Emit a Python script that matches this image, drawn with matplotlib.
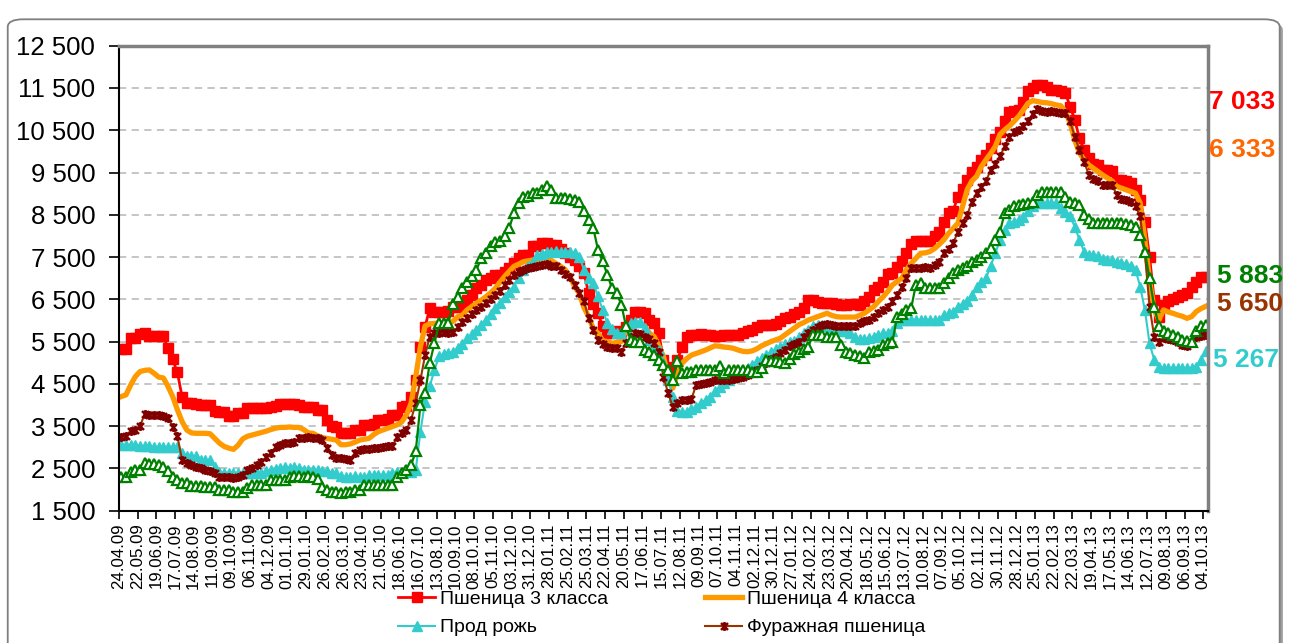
import matplotlib
matplotlib.use("Agg")
import matplotlib.pyplot as plt
from matplotlib.path import Path
from matplotlib.patches import FancyBboxPatch
import pandas as pd

plt.rcParams['font.family'] = ['Liberation Sans', 'DejaVu Sans']

# weekly dates, labels every 4 weeks
dates = pd.date_range('2009-04-24', periods=233, freq='7D')
date_labels = [d.strftime('%d.%m.%y') for d in dates]

wheat3 = [
    5320, 5330, 5580, 5590, 5690, 5700, 5640, 5640, 5630, 5630,
    5340, 5080, 4770, 4200, 4050, 4040, 4030, 4000, 4000, 3990,
    3850, 3840, 3830, 3740, 3740, 3800, 3810, 3920, 3920, 3930,
    3930, 3940, 3960, 3970, 4020, 4030, 4030, 4020, 4010, 3960,
    3960, 3950, 3880, 3870, 3650, 3500, 3480, 3340, 3330, 3330,
    3400, 3420, 3520, 3530, 3540, 3640, 3650, 3660, 3760, 3770,
    3950, 3970, 4200, 4590, 5380, 5850, 6290, 6210, 6200, 6210,
    6220, 6320, 6330, 6340, 6480, 6600, 6760, 6850, 6960, 7000,
    7070, 7080, 7150, 7240, 7350, 7470, 7550, 7560, 7760, 7770,
    7830, 7830, 7790, 7780, 7700, 7590, 7500, 7430, 7300, 7120,
    6650, 6400, 6170, 5860, 5700, 5700, 5740, 5700, 5850, 6010,
    6200, 6210, 6170, 6000, 5930, 5700, 5070, 4670, 4900, 5070,
    5380, 5600, 5660, 5660, 5670, 5660, 5650, 5640, 5640, 5660,
    5660, 5650, 5650, 5700, 5740, 5780, 5840, 5890, 5900, 5900,
    5910, 5990, 6050, 6090, 6150, 6210, 6300, 6480, 6490, 6430,
    6420, 6420, 6410, 6400, 6370, 6370, 6380, 6380, 6370, 6460,
    6560, 6720, 6800, 6920, 7100, 7120, 7270, 7400, 7590, 7800,
    7880, 7880, 7890, 7880, 8000, 8100, 8340, 8540, 8600, 8930,
    9100, 9330, 9520, 9640, 9800, 9920, 10080, 10300, 10450, 10710,
    10940, 10960, 10980, 11180, 11420, 11500, 11580, 11570, 11520, 11460,
    11450, 11440, 11380, 11060, 10750, 10310, 10040, 9840, 9700, 9680,
    9550, 9550, 9540, 9330, 9320, 9310, 9250, 9090, 8850, 8340,
    7510, 6490, 6090, 6370, 6450, 6500, 6550, 6600, 6650, 6800,
    6900, 7040, 7033,
]

wheat4 = [
    4200, 4240, 4470, 4670, 4790, 4820, 4830, 4750, 4660, 4640,
    4440, 4200, 3890, 3610, 3410, 3340, 3330, 3330, 3330, 3320,
    3210, 3100, 3020, 2980, 2950, 3050, 3200, 3260, 3290, 3320,
    3350, 3380, 3420, 3450, 3470, 3470, 3480, 3470, 3470, 3420,
    3340, 3330, 3270, 3230, 3210, 3190, 3170, 3060, 3060, 3080,
    3120, 3170, 3190, 3210, 3300, 3370, 3410, 3450, 3490, 3530,
    3600, 3760, 4040, 4670, 5380, 5870, 5920, 5930, 5940, 5930,
    5940, 5980, 6090, 6130, 6250, 6330, 6410, 6480, 6560, 6650,
    6760, 6900, 7040, 7160, 7280, 7330, 7390, 7410, 7430, 7440,
    7450, 7440, 7420, 7350, 7280, 7200, 7040, 6800, 6640, 6300,
    6090, 5800, 5700, 5520, 5500, 5460, 5480, 5500, 5780, 5880,
    5930, 5900, 5860, 5700, 5620, 5400, 5150, 4670, 4400, 4750,
    4990, 5100, 5180, 5220, 5260, 5300, 5350, 5400, 5390, 5370,
    5360, 5340, 5300, 5270, 5260, 5280, 5330, 5400, 5450, 5500,
    5540, 5580, 5660, 5740, 5820, 5900, 5950, 6010, 6050, 6090,
    6130, 6170, 6120, 6090, 6080, 6080, 6080, 6080, 6120, 6170,
    6250, 6330, 6450, 6560, 6690, 6840, 6920, 7000, 7200, 7350,
    7470, 7590, 7600, 7630, 7700, 7800, 7910, 8060, 8180, 8300,
    8700, 9100, 9300, 9410, 9640, 9800, 9950, 10120, 10400, 10510,
    10600, 10710, 10830, 10980, 11140, 11200, 11180, 11160, 11150, 11130,
    11100, 11080, 10940, 10670, 10270, 9960, 9800, 9680, 9600, 9520,
    9440, 9370, 9300, 9170, 9130, 9090, 9050, 9010, 8780, 7910,
    6960, 6250, 6010, 6250, 6200, 6170, 6130, 6100, 6050, 6090,
    6210, 6280, 6333,
]

rye = [
    3050, 3050, 3050, 3050, 3040, 3020, 3020, 3010, 3010, 3010,
    3000, 3000, 3000, 2860, 2800, 2790, 2790, 2710, 2700, 2690,
    2540, 2420, 2390, 2380, 2380, 2380, 2390, 2380, 2380, 2390,
    2400, 2430, 2460, 2480, 2520, 2530, 2520, 2530, 2520, 2470,
    2460, 2460, 2460, 2450, 2450, 2390, 2380, 2310, 2300, 2300,
    2310, 2300, 2300, 2340, 2340, 2350, 2340, 2340, 2380, 2420,
    2420, 2430, 2420, 2460, 3370, 4080, 4440, 4830, 5150, 5210,
    5220, 5260, 5340, 5450, 5580, 5680, 5780, 5900, 6010, 6150,
    6290, 6420, 6560, 6680, 6800, 7000, 7200, 7300, 7390, 7550,
    7580, 7630, 7630, 7640, 7630, 7630, 7620, 7600, 7510, 7200,
    7000, 6880, 6570, 6250, 5930, 5800, 5700, 5700, 5850, 5950,
    5970, 5970, 5820, 5540, 5400, 5300, 4990, 4590, 4200, 3850,
    3840, 3840, 3900, 3960, 4050, 4120, 4200, 4320, 4420, 4510,
    4600, 4670, 4730, 4790, 4870, 4950, 5030, 5110, 5190, 5260,
    5320, 5380, 5440, 5480, 5520, 5600, 5700, 5780, 5860, 5900,
    5900, 5880, 5800, 5780, 5760, 5750, 5700, 5600, 5560, 5560,
    5580, 5600, 5650, 5700, 5700, 5760, 5930, 6000, 6010, 6020,
    6010, 6010, 6020, 6010, 6010, 6020, 6130, 6170, 6210, 6330,
    6400, 6450, 6600, 6800, 6900, 7000, 7280, 7590, 7900, 8140,
    8300, 8340, 8380, 8450, 8580, 8700, 8780, 8780, 8780, 8770,
    8770, 8660, 8560, 8460, 8220, 7910, 7630, 7560, 7540, 7530,
    7450, 7430, 7420, 7390, 7370, 7340, 7300, 7200, 6800, 6250,
    5460, 5070, 4900, 4870, 4870, 4870, 4870, 4870, 4870, 4870,
    4900, 5070, 5267,
]

feed = [
    3250, 3270, 3390, 3420, 3500, 3780, 3770, 3760, 3760, 3750,
    3690, 3490, 3270, 2700, 2620, 2580, 2540, 2500, 2470, 2440,
    2380, 2300, 2290, 2290, 2280, 2290, 2340, 2460, 2520, 2580,
    2660, 2760, 2860, 3010, 3050, 3090, 3110, 3130, 3210, 3230,
    3250, 3220, 3210, 3170, 2980, 2820, 2750, 2740, 2720, 2710,
    2860, 2930, 2950, 2970, 2980, 2980, 3010, 3020, 3020, 3250,
    3330, 3410, 3650, 4040, 4590, 5180, 5620, 5710, 5710, 5720,
    5710, 5720, 5840, 5970, 6050, 6150, 6250, 6330, 6410, 6500,
    6600, 6700, 6840, 6960, 7080, 7150, 7200, 7250, 7270, 7290,
    7320, 7340, 7300, 7280, 7200, 7100, 7040, 6840, 6650, 6450,
    6050, 5780, 5540, 5450, 5380, 5350, 5340, 5260, 5460, 5600,
    5700, 5680, 5620, 5550, 5460, 5260, 4670, 4280, 3960, 4050,
    4120, 4130, 4140, 4480, 4500, 4510, 4550, 4580, 4590, 4590,
    4600, 4610, 4630, 4670, 4710, 4770, 4830, 4920, 5000, 5080,
    5140, 5220, 5300, 5400, 5450, 5500, 5600, 5700, 5780, 5850,
    5890, 5910, 5900, 5880, 5870, 5870, 5870, 5880, 5940, 5980,
    6010, 6090, 6170, 6250, 6330, 6450, 6600, 6800, 7000, 7240,
    7250, 7250, 7260, 7250, 7320, 7390, 7590, 7700, 7830, 8100,
    8300, 8500, 8810, 9010, 9150, 9290, 9560, 9700, 9880, 10120,
    10350, 10450, 10510, 10600, 10710, 10890, 11000, 10950, 10940, 10950,
    10940, 10920, 10900, 10710, 10350, 10040, 9760, 9450, 9350, 9290,
    9210, 9210, 9200, 8970, 8870, 8850, 8810, 8710, 8460, 7590,
    6330, 5620, 5500, 5580, 5560, 5540, 5480, 5420, 5400, 5500,
    5600, 5630, 5650,
]

# green series, not in the legend
green = [
    2290, 2290, 2420, 2460, 2460, 2620, 2600, 2600, 2580, 2540,
    2450, 2300, 2230, 2150, 2150, 2090, 2080, 2080, 2070, 2070,
    2060, 1990, 1990, 1990, 1950, 1950, 1950, 2030, 2100, 2100,
    2110, 2110, 2220, 2230, 2230, 2230, 2300, 2310, 2310, 2300,
    2310, 2300, 2240, 2070, 1980, 1930, 1930, 1920, 1930, 1930,
    1990, 1990, 2100, 2110, 2110, 2100, 2110, 2110, 2100, 2300,
    2380, 2460, 2580, 2900, 4000, 4280, 4990, 5460, 5930, 5930,
    5940, 6400, 6560, 6760, 6920, 7050, 7200, 7470, 7600, 7750,
    7860, 7870, 7990, 8180, 8540, 8780, 8930, 8940, 9010, 9010,
    9080, 9170, 9090, 8890, 8890, 8890, 8880, 8860, 8810, 8580,
    8380, 8180, 7670, 7400, 7080, 6760, 6640, 6370, 5860, 5540,
    5500, 5500, 5300, 5250, 5180, 5070, 4950, 4830, 4590, 5030,
    4750, 4790, 4790, 4830, 4830, 4830, 4830, 4830, 4920, 4750,
    4830, 4830, 4830, 4830, 4830, 4790, 4790, 4870, 5070, 5050,
    5030, 5010, 4990, 5100, 5200, 5260, 5320, 5380, 5660, 5660,
    5660, 5620, 5620, 5620, 5420, 5260, 5220, 5180, 5150, 5110,
    5260, 5270, 5300, 5420, 5460, 5500, 6090, 6150, 6250, 6290,
    6840, 6880, 6770, 6760, 6760, 6760, 6880, 7000, 7120, 7200,
    7250, 7280, 7390, 7430, 7500, 7600, 7710, 7910, 8100, 8540,
    8620, 8700, 8720, 8760, 8790, 8810, 8970, 9050, 9050, 9050,
    9050, 9050, 8930, 8810, 8780, 8740, 8500, 8400, 8300, 8300,
    8300, 8300, 8300, 8300, 8300, 8290, 8270, 8220, 8030, 7630,
    7000, 6330, 5860, 5740, 5700, 5650, 5620, 5540, 5520, 5500,
    5740, 5870, 5883,
]

yticks = list(range(1500, 12501, 1000))

# excel style star marker: x with a vertical bar
star = Path([(-1, -1), (1, 1), (-1, 1), (1, -1), (0, -1.3), (0, 1.3)],
            [Path.MOVETO, Path.LINETO] * 3)

fig = plt.figure(figsize=(12.9, 6.43), dpi=100)
# chart area frame with a small shadow
fig.patches.append(FancyBboxPatch((0.0085, -0.065), 0.986, 1.03,
                                  boxstyle='round,pad=0,rounding_size=0.012',
                                  transform=fig.transFigure, facecolor='#a0a0a0',
                                  edgecolor='none', zorder=-11))
fig.patches.append(FancyBboxPatch((0.006, -0.06), 0.986, 1.03,
                                  boxstyle='round,pad=0,rounding_size=0.012',
                                  transform=fig.transFigure, facecolor='white',
                                  edgecolor='#7f7f7f', linewidth=1.3, zorder=-10))

ax = fig.add_axes([0.0922, 0.2058, 0.8442, 0.7231])
x = list(range(len(dates)))

ax.plot(x, wheat3, color='#ff0000', lw=2, marker='s', ms=7, mec='#ff0000',
        mfc='#ff0000', label='Пшеница 3 класса')
ax.plot(x, wheat4, color='#ff9900', lw=3.8, label='Пшеница 4 класса')
ax.plot(x, rye, color='#33cccc', lw=1.5, marker='^', ms=7.5, mec='#33cccc',
        mfc='#33cccc', label='Прод рожь')
ax.plot(x, feed, color='#993300', lw=1.5, marker=star, ms=6.5, mec='#800000',
        mew=1.8, label='Фуражная пшеница')
ax.plot(x, green, color='#008000', lw=1.6, marker='^', ms=7.5, mec='#008000',
        mfc='white', mew=1.6)

ax.set_xlim(-0.5, len(dates) - 0.5)
ax.set_ylim(1500, 12500)
ax.set_yticks(yticks)
ax.set_yticklabels([f'{v:,}'.replace(',', ' ') for v in yticks], fontsize=18.5)
ax.tick_params(axis='y', length=7, width=1.2, pad=10)

tick_pos = [i - 0.5 for i in range(0, len(dates), 4)]
ax.set_xticks(tick_pos)
ax.set_xticklabels(date_labels[::4], rotation=90, fontsize=12.2)
ax.tick_params(axis='x', length=6, width=1.2, pad=3)

for v in yticks[1:-1]:
    ax.axhline(v, color='#c0c0c0', lw=1.3, ls=(0, (4, 3)), zorder=0)

ax.spines['left'].set_linewidth(1.5)
ax.spines['bottom'].set_linewidth(1.5)
ax.spines['top'].set_color('#808080')
ax.spines['top'].set_linewidth(2.5)
ax.spines['right'].set_color('#808080')
ax.spines['right'].set_linewidth(2.5)

# end values on the right side
end_labels = [
    (wheat3[-1], '#ff0000', 0.937, 0.842),
    (wheat4[-1], '#ff6600', 0.937, 0.767),
    (green[-1], '#008000', 0.9434, 0.571),
    (feed[-1], '#993300', 0.9434, 0.527),
    (rye[-1], '#33cccc', 0.9403, 0.440),
]
for val, col, tx, ty in end_labels:
    fig.text(tx, ty, f'{val:,}'.replace(',', ' '), color=col, fontsize=19,
             fontweight='bold', ha='left', va='center')

handles, labels = ax.get_legend_handles_labels()
order = [0, 2, 1, 3]
fig.legend([handles[i] for i in order], [labels[i] for i in order],
           loc='center', bbox_to_anchor=(0.513, 0.046), ncol=2, frameon=False,
           fontsize=14, handlelength=1.9, handletextpad=0.25,
           columnspacing=5.0, labelspacing=0.55)

fig.savefig('out.png', dpi=100)
